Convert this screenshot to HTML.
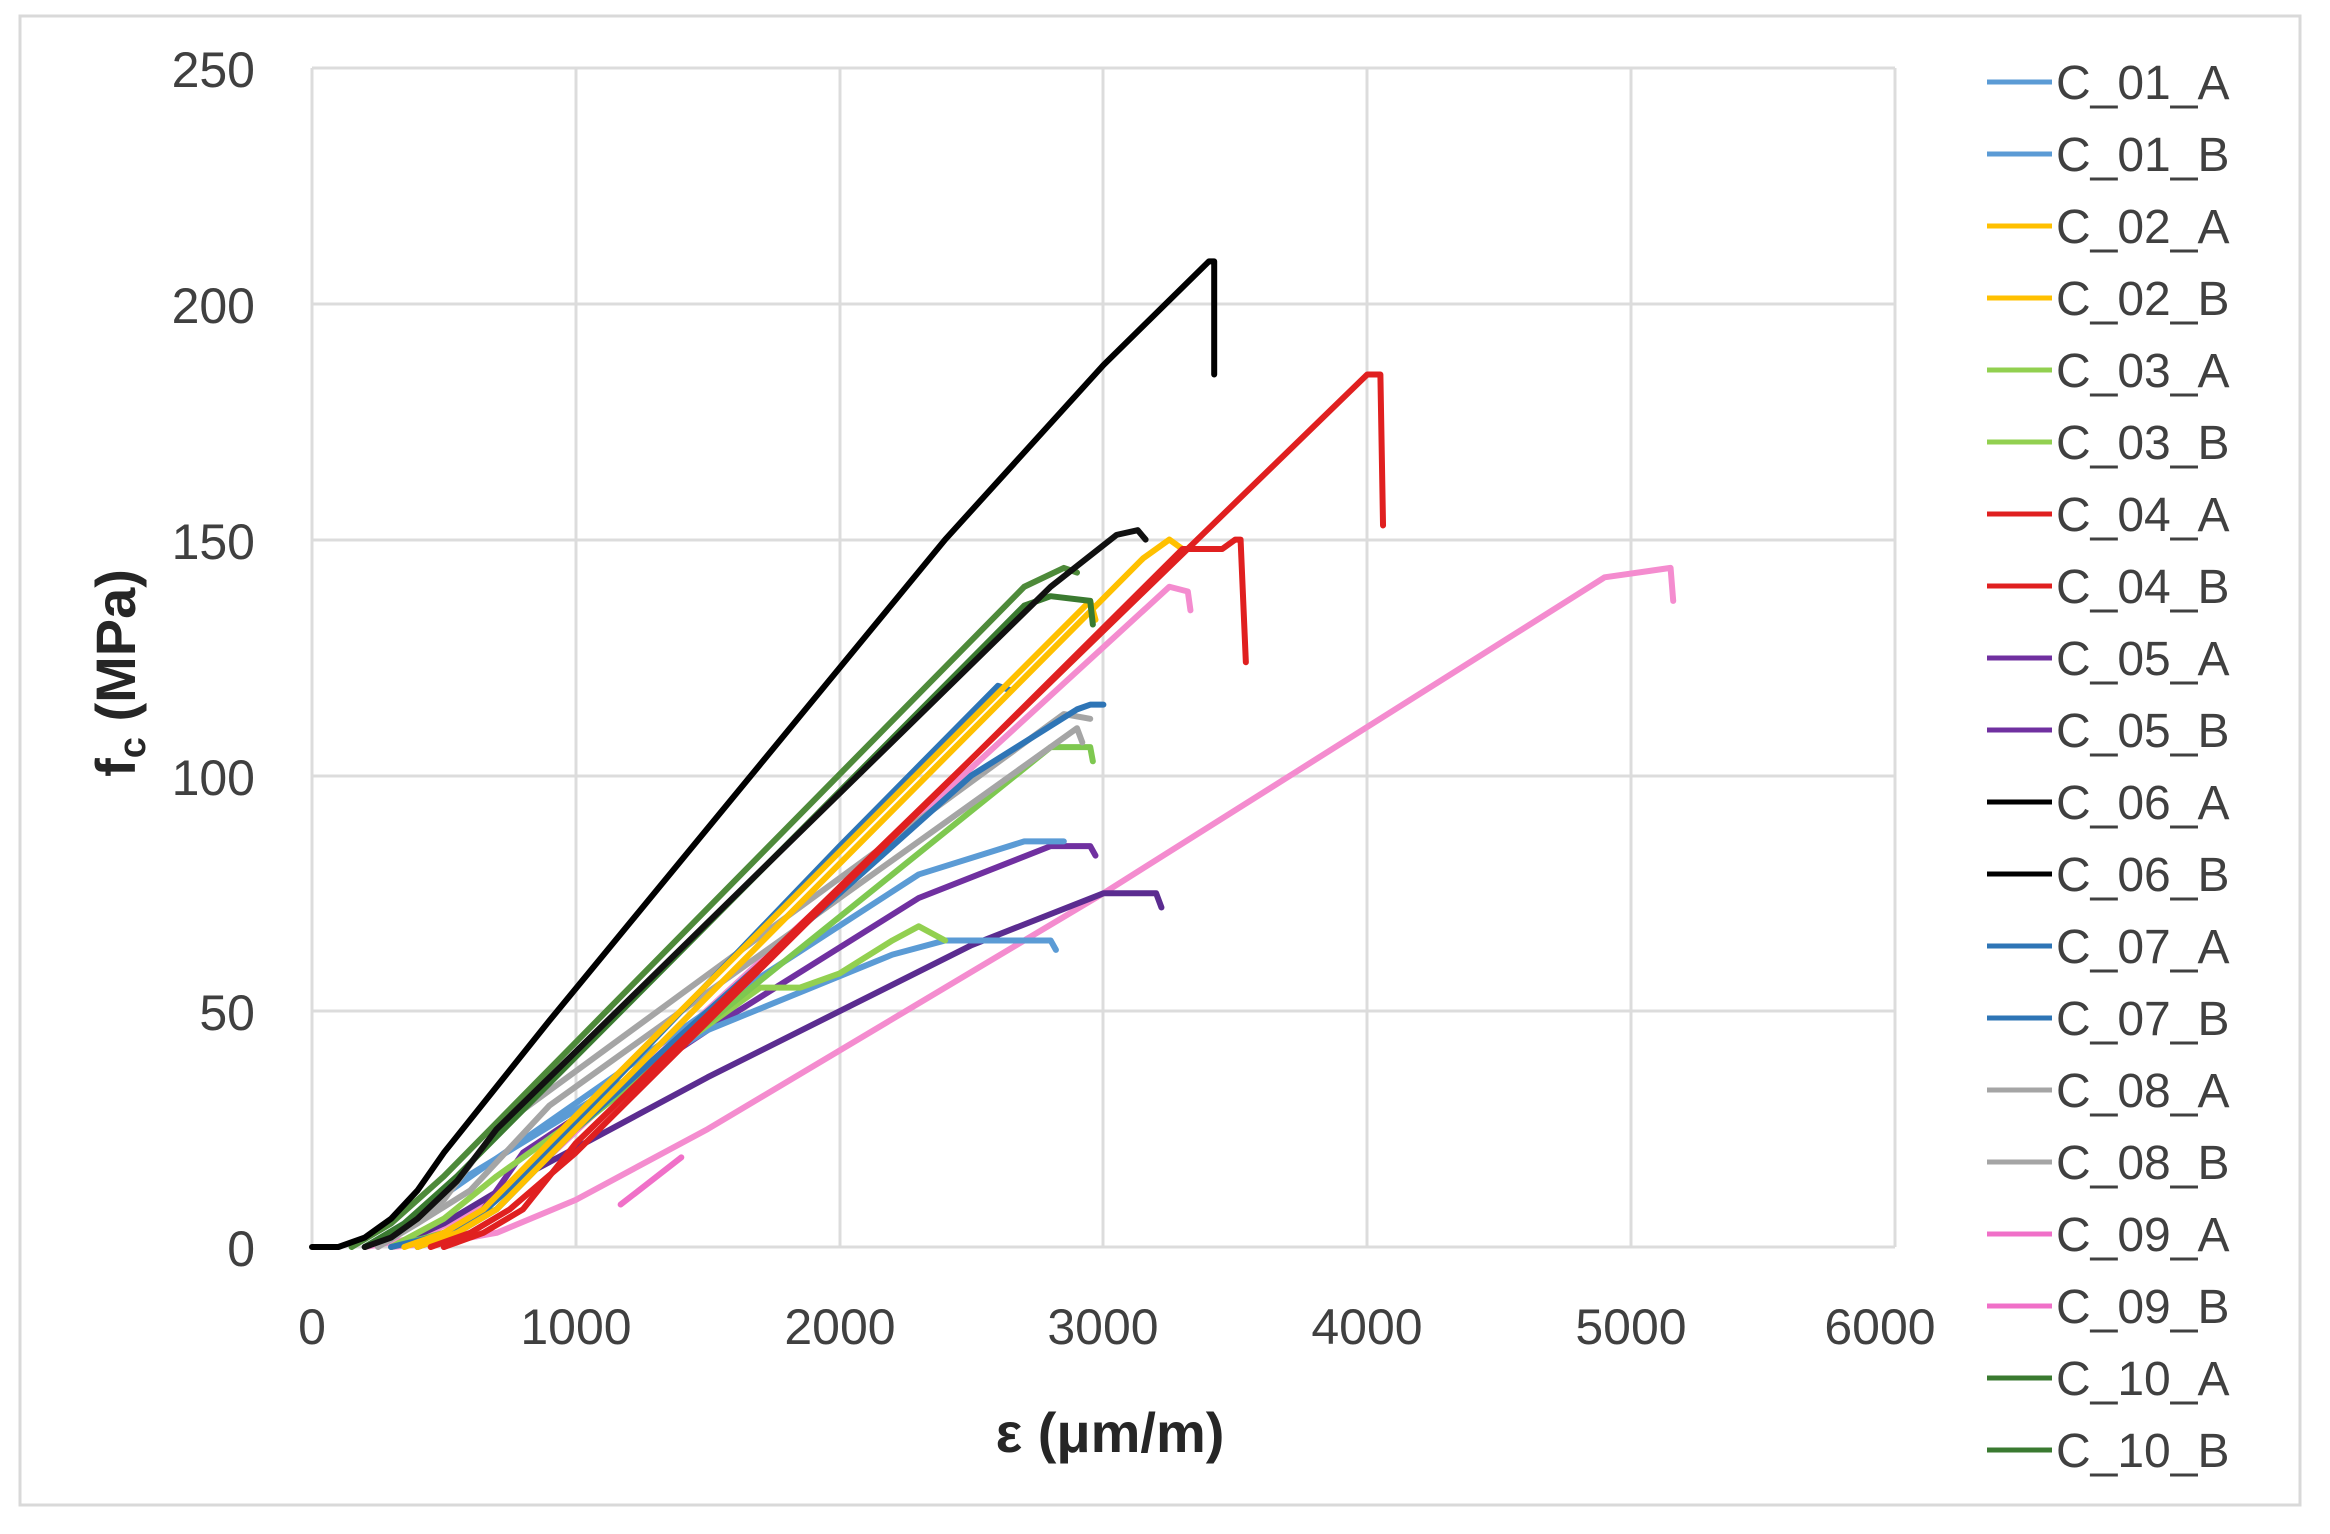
<!DOCTYPE html>
<html><head><meta charset="utf-8"><style>
body{margin:0;background:#fff;}
svg{display:block;font-family:"Liberation Sans",sans-serif;}
</style></head><body>
<svg width="2330" height="1534" viewBox="0 0 2330 1534" xmlns="http://www.w3.org/2000/svg">
<rect x="0" y="0" width="2330" height="1534" fill="#fff"/>
<rect x="20" y="16" width="2280" height="1489" fill="none" stroke="#d9d9d9" stroke-width="3"/>
<g stroke="#dcdcdc" stroke-width="3">
<line x1="312" y1="68" x2="1895" y2="68"/>
<line x1="312" y1="304" x2="1895" y2="304"/>
<line x1="312" y1="540" x2="1895" y2="540"/>
<line x1="312" y1="776" x2="1895" y2="776"/>
<line x1="312" y1="1011" x2="1895" y2="1011"/>
<line x1="312" y1="1247" x2="1895" y2="1247"/>
<line x1="312" y1="68" x2="312" y2="1247"/>
<line x1="576" y1="68" x2="576" y2="1247"/>
<line x1="840" y1="68" x2="840" y2="1247"/>
<line x1="1103" y1="68" x2="1103" y2="1247"/>
<line x1="1367" y1="68" x2="1367" y2="1247"/>
<line x1="1631" y1="68" x2="1631" y2="1247"/>
<line x1="1895" y1="68" x2="1895" y2="1247"/>
</g>
<g font-size="50" fill="#404040" text-anchor="end">
<text x="255" y="87">250</text><text x="255" y="323">200</text><text x="255" y="559">150</text>
<text x="255" y="795">100</text><text x="255" y="1030">50</text><text x="255" y="1266">0</text>
</g>
<g font-size="50" fill="#404040" text-anchor="middle">
<text x="312" y="1344">0</text><text x="576" y="1344">1000</text><text x="840" y="1344">2000</text>
<text x="1103" y="1344">3000</text><text x="1367" y="1344">4000</text><text x="1631" y="1344">5000</text><text x="1880" y="1344">6000</text>
</g>
<text x="1110" y="1452" font-size="56" font-weight="bold" fill="#262626" text-anchor="middle">ε (μm/m)</text>
<text transform="translate(135,673) rotate(-90)" font-size="56" font-weight="bold" fill="#262626" text-anchor="middle">f<tspan font-size="38" dy="10">c</tspan><tspan dy="-10"> (MPa)</tspan></text>
<g transform="matrix(0.2638 0 0 -4.716 312 1247)" fill="none" stroke-width="6" stroke-linejoin="round" stroke-linecap="round">
<polyline vector-effect="non-scaling-stroke" stroke="#f48ccf" points="300,0 500,1 700,3 1000,10 1500,25 3000,75 4900,142 5150,144 5160,137"/>
<polyline vector-effect="non-scaling-stroke" stroke="#f070c8" points="1170,9 1400,19"/>
<polyline vector-effect="non-scaling-stroke" stroke="#f48ccf" points="200,0 400,2 600,7 800,14 1200,35 3250,140 3320,139 3330,135"/>
<polyline vector-effect="non-scaling-stroke" stroke="#5b2c90" points="300,0 500,5 800,15 1500,36 2500,64 3000,75 3200,75 3220,72"/>
<polyline vector-effect="non-scaling-stroke" stroke="#7030a0" points="500,0 650,8 800,20 1500,46 2300,74 2800,85 2950,85 2970,83"/>
<polyline vector-effect="non-scaling-stroke" stroke="#5b9bd5" points="200,0 350,4 500,11 1500,50 2300,79 2700,86 2850,86"/>
<polyline vector-effect="non-scaling-stroke" stroke="#5b9bd5" points="200,0 350,5 500,12 1500,46 2200,62 2400,65 2800,65 2820,63"/>
<polyline vector-effect="non-scaling-stroke" stroke="#92d050" points="300,0 500,6 700,15 1200,35 1700,55 1850,55 2000,58 2200,65 2300,68 2400,65"/>
<polyline vector-effect="non-scaling-stroke" stroke="#7ec850" points="300,0 500,3 700,8 1000,25 2800,106 2950,106 2960,103"/>
<polyline vector-effect="non-scaling-stroke" stroke="#a5a5a5" points="200,0 350,4 500,10 700,25 2850,113 2950,112"/>
<polyline vector-effect="non-scaling-stroke" stroke="#a5a5a5" points="250,0 400,5 600,12 900,30 2900,110 2920,107"/>
<polyline vector-effect="non-scaling-stroke" stroke="#2e75b6" points="300,0 450,2 600,5 800,15 2000,85 2600,119 2650,118"/>
<polyline vector-effect="non-scaling-stroke" stroke="#2e75b6" points="400,0 550,3 700,8 1000,25 2500,100 2900,114 2950,115 3000,115"/>
<polyline vector-effect="non-scaling-stroke" stroke="#ffc000" points="400,0 550,3 700,8 1000,25 3150,146 3250,150 3300,148"/>
<polyline vector-effect="non-scaling-stroke" stroke="#ffc000" points="350,0 500,3 650,8 950,25 2950,137 2970,133"/>
<polyline vector-effect="non-scaling-stroke" stroke="#e02020" points="500,0 650,3 800,8 1000,22 4000,185 4050,185 4060,153"/>
<polyline vector-effect="non-scaling-stroke" stroke="#e02020" points="450,0 600,3 750,8 1000,20 3300,148 3450,148 3500,150 3520,150 3540,124"/>
<polyline vector-effect="non-scaling-stroke" stroke="#4e8a3a" points="150,0 300,5 500,15 2700,140 2850,144 2900,143"/>
<polyline vector-effect="non-scaling-stroke" stroke="#3a7a30" points="200,0 350,5 550,15 2700,136 2800,138 2950,137 2960,132"/>
<polyline vector-effect="non-scaling-stroke" stroke="#111" points="200,0 300,2 400,6 550,14 700,25 2800,140 3050,151 3130,152 3160,150"/>
<polyline vector-effect="non-scaling-stroke" stroke="#000" points="0,0 100,0 200,2 300,6 400,12 500,20 900,48 2400,150 3000,187 3400,209 3420,209 3420,185"/>
</g>
<g stroke-width="5">
<line x1="1987" x2="2052" y1="82" y2="82" stroke="#5b9bd5"/>
<line x1="1987" x2="2052" y1="154" y2="154" stroke="#5b9bd5"/>
<line x1="1987" x2="2052" y1="226" y2="226" stroke="#ffc000"/>
<line x1="1987" x2="2052" y1="298" y2="298" stroke="#ffc000"/>
<line x1="1987" x2="2052" y1="370" y2="370" stroke="#92d050"/>
<line x1="1987" x2="2052" y1="442" y2="442" stroke="#92d050"/>
<line x1="1987" x2="2052" y1="514" y2="514" stroke="#e02020"/>
<line x1="1987" x2="2052" y1="586" y2="586" stroke="#e02020"/>
<line x1="1987" x2="2052" y1="658" y2="658" stroke="#7030a0"/>
<line x1="1987" x2="2052" y1="730" y2="730" stroke="#7030a0"/>
<line x1="1987" x2="2052" y1="802" y2="802" stroke="#000"/>
<line x1="1987" x2="2052" y1="874" y2="874" stroke="#000"/>
<line x1="1987" x2="2052" y1="946" y2="946" stroke="#2e75b6"/>
<line x1="1987" x2="2052" y1="1018" y2="1018" stroke="#2e75b6"/>
<line x1="1987" x2="2052" y1="1090" y2="1090" stroke="#a5a5a5"/>
<line x1="1987" x2="2052" y1="1162" y2="1162" stroke="#a5a5a5"/>
<line x1="1987" x2="2052" y1="1234" y2="1234" stroke="#f070c8"/>
<line x1="1987" x2="2052" y1="1306" y2="1306" stroke="#f070c8"/>
<line x1="1987" x2="2052" y1="1378" y2="1378" stroke="#3a7a30"/>
<line x1="1987" x2="2052" y1="1450" y2="1450" stroke="#3a7a30"/>
</g>
<g font-size="48" fill="#404040">
<text x="2056" y="99">C_01_A</text><text x="2056" y="171">C_01_B</text>
<text x="2056" y="243">C_02_A</text><text x="2056" y="315">C_02_B</text>
<text x="2056" y="387">C_03_A</text><text x="2056" y="459">C_03_B</text>
<text x="2056" y="531">C_04_A</text><text x="2056" y="603">C_04_B</text>
<text x="2056" y="675">C_05_A</text><text x="2056" y="747">C_05_B</text>
<text x="2056" y="819">C_06_A</text><text x="2056" y="891">C_06_B</text>
<text x="2056" y="963">C_07_A</text><text x="2056" y="1035">C_07_B</text>
<text x="2056" y="1107">C_08_A</text><text x="2056" y="1179">C_08_B</text>
<text x="2056" y="1251">C_09_A</text><text x="2056" y="1323">C_09_B</text>
<text x="2056" y="1395">C_10_A</text><text x="2056" y="1467">C_10_B</text>
</g>
</svg>
</body></html>
